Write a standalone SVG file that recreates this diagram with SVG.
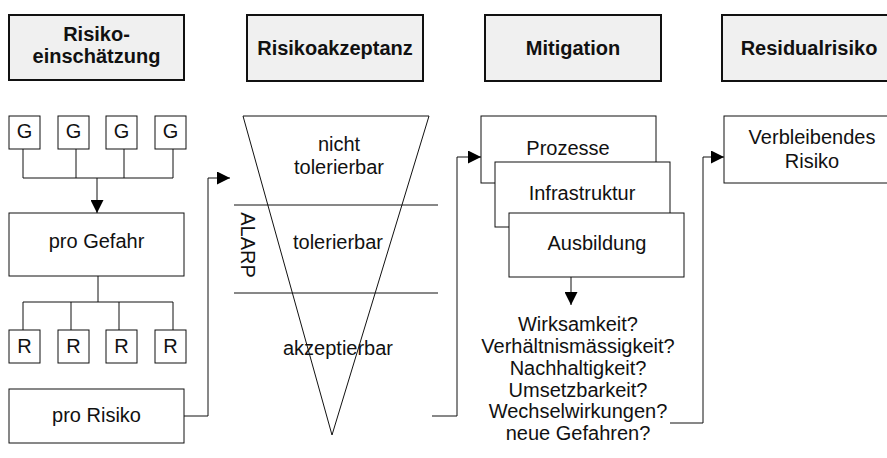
<svg xmlns="http://www.w3.org/2000/svg" width="887" height="458" viewBox="0 0 887 458">
<defs>
<style>
.hdr{fill:#f0f0f0;stroke:#111;stroke-width:2}
.box{fill:#fff;stroke:#111;stroke-width:1}
.ln{fill:none;stroke:#111;stroke-width:1}
.ht{font-family:"Liberation Sans",Arial,sans-serif;font-size:20px;font-weight:bold;fill:#111;text-anchor:middle}
.t{font-family:"Liberation Sans",Arial,sans-serif;font-size:20px;fill:#111;text-anchor:middle}
</style>
<marker id="ah" viewBox="0 0 10 10" refX="10" refY="5" markerWidth="13" markerHeight="13" markerUnits="userSpaceOnUse" orient="auto">
<path d="M0,0 L10,5 L0,10 Z" fill="#000"/>
</marker>
</defs>
<rect width="887" height="458" fill="#fff"/>

<g id="h-einschaetzung"><rect class="hdr" x="9" y="15" width="175" height="65"/><text class="ht" x="96.5" y="41">Risiko-</text><text class="ht" x="96.5" y="63">einschätzung</text></g>
<g id="h-akzeptanz"><rect class="hdr" x="247" y="15" width="176" height="66"/><text class="ht" x="335" y="55">Risikoakzeptanz</text></g>
<g id="h-mitigation"><rect class="hdr" x="485" y="15" width="176" height="66"/><text class="ht" x="573" y="55">Mitigation</text></g>
<g id="h-residual"><rect class="hdr" x="722" y="15" width="174" height="66"/><text class="ht" x="809" y="55">Residualrisiko</text></g>

<g id="connectors">
<polyline class="ln" points="23,149 23,178 173,178 173,149"/>
<line class="ln" x1="76" y1="149" x2="76" y2="178"/>
<line class="ln" x1="124" y1="149" x2="124" y2="178"/>
<line class="ln" x1="97" y1="178" x2="97" y2="213" marker-end="url(#ah)"/>
<line class="ln" x1="98" y1="276" x2="98" y2="302"/>
<polyline class="ln" points="23,330 23,302 173,302 173,330"/>
<line class="ln" x1="71" y1="302" x2="71" y2="330"/>
<line class="ln" x1="119" y1="302" x2="119" y2="330"/>
<polyline class="ln" points="184,416 208,416 208,178 230,178" marker-end="url(#ah)"/>
<polyline class="ln" points="432,416 457,416 457,157 481,157" marker-end="url(#ah)"/>
<line class="ln" x1="571" y1="277" x2="571" y2="305" marker-end="url(#ah)"/>
<polyline class="ln" points="670,423 703,423 703,157 724,157" marker-end="url(#ah)"/>
</g>

<g id="g1"><rect class="box" x="9" y="116" width="31" height="33"/><text class="t" x="24.5" y="138">G</text></g>
<g id="g2"><rect class="box" x="58" y="116" width="31" height="33"/><text class="t" x="73.5" y="138">G</text></g>
<g id="g3"><rect class="box" x="106" y="116" width="31" height="33"/><text class="t" x="121.5" y="138">G</text></g>
<g id="g4"><rect class="box" x="155" y="116" width="31" height="33"/><text class="t" x="170.5" y="138">G</text></g>

<g id="pro-gefahr"><rect class="box" x="9" y="213" width="175" height="63"/><text class="t" x="96.5" y="248">pro Gefahr</text></g>

<g id="r1"><rect class="box" x="9" y="330" width="31" height="33"/><text class="t" x="24.5" y="353">R</text></g>
<g id="r2"><rect class="box" x="58" y="330" width="31" height="33"/><text class="t" x="73.5" y="353">R</text></g>
<g id="r3"><rect class="box" x="106" y="330" width="31" height="33"/><text class="t" x="121.5" y="353">R</text></g>
<g id="r4"><rect class="box" x="155" y="330" width="31" height="33"/><text class="t" x="170.5" y="353">R</text></g>

<g id="pro-risiko"><rect class="box" x="9" y="389" width="175" height="54"/><text class="t" x="96.5" y="422">pro Risiko</text></g>

<g id="funnel">
<polygon class="ln" points="243,116 429,116 332,435"/>
<line class="ln" x1="234" y1="205" x2="438" y2="205"/>
<line class="ln" x1="234" y1="293" x2="438" y2="293"/>
<text class="t" x="339" y="151">nicht</text>
<text class="t" x="339" y="174">tolerierbar</text>
<text class="t" x="338" y="249">tolerierbar</text>
<text class="t" x="338" y="355">akzeptierbar</text>
<text class="t" transform="translate(241,245) rotate(90)" x="0" y="0">ALARP</text>
</g>

<g id="prozesse"><rect class="box" x="481" y="116" width="175" height="67"/><text class="t" x="568" y="155">Prozesse</text></g>
<g id="infrastruktur"><rect class="box" x="495" y="162" width="175" height="65"/><text class="t" x="582" y="200">Infrastruktur</text></g>
<g id="ausbildung"><rect class="box" x="509" y="213" width="175" height="64"/><text class="t" x="597" y="250">Ausbildung</text></g>

<g id="fragen">
<text class="t" x="578" y="331">Wirksamkeit?</text>
<text class="t" x="578" y="353">Verhältnismässigkeit?</text>
<text class="t" x="578" y="375">Nachhaltigkeit?</text>
<text class="t" x="578" y="397">Umsetzbarkeit?</text>
<text class="t" x="578" y="418">Wechselwirkungen?</text>
<text class="t" x="578" y="440">neue Gefahren?</text>
</g>

<g id="verbleibend"><rect class="box" x="724" y="116" width="176" height="67"/><text class="t" x="812" y="144">Verbleibendes</text><text class="t" x="812" y="168">Risiko</text></g>
</svg>
